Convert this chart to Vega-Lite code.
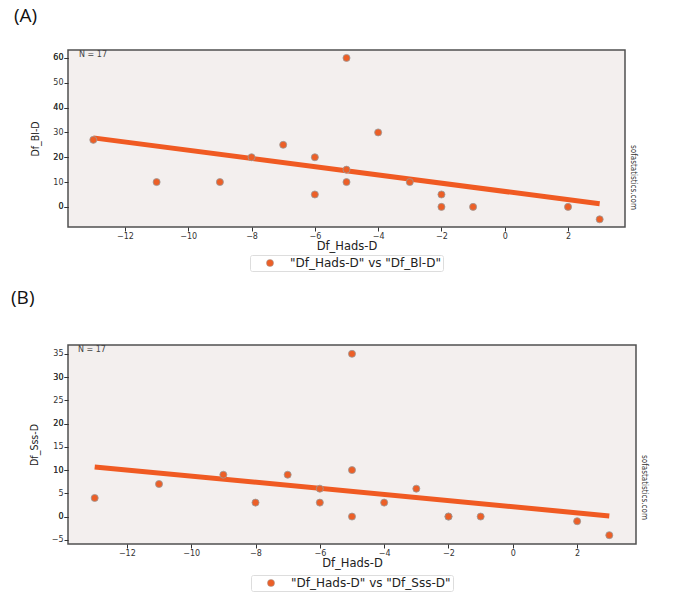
{
  "$schema": "https://vega.github.io/schema/vega-lite/v6.json",
  "padding": {"left": 10, "top": 6, "right": 5, "bottom": 5},
  "background": "white",
  "spacing": 15,
  "config": {
    "view": {"fill": "#f3efee", "stroke": "#505050", "strokeWidth": 1.5},
    "axis": {"labelFont": "DejaVu Sans", "labelFontSize": 8, "labelColor": "#333333", "tickColor": "#333333", "tickSize": 4, "labelPadding": 1, "domain": false, "grid": false, "titleFontWeight": "normal", "titleColor": "#222222"},
    "legend": {"layout": {"bottom": {"anchor": "middle"}}},
    "title": {"font": "Open Sans", "fontSize": 19, "fontWeight": "normal", "color": "#111111", "anchor": "start", "frame": "group"}
  },
  "datasets": {
    "a": [
      {"hads": -13, "bl": 27, "series": "\"Df_Hads-D\" vs \"Df_Bl-D\""},
      {"hads": -11, "bl": 10, "series": "\"Df_Hads-D\" vs \"Df_Bl-D\""},
      {"hads": -9, "bl": 10, "series": "\"Df_Hads-D\" vs \"Df_Bl-D\""},
      {"hads": -8, "bl": 20, "series": "\"Df_Hads-D\" vs \"Df_Bl-D\""},
      {"hads": -7, "bl": 25, "series": "\"Df_Hads-D\" vs \"Df_Bl-D\""},
      {"hads": -6, "bl": 20, "series": "\"Df_Hads-D\" vs \"Df_Bl-D\""},
      {"hads": -6, "bl": 5, "series": "\"Df_Hads-D\" vs \"Df_Bl-D\""},
      {"hads": -5, "bl": 60, "series": "\"Df_Hads-D\" vs \"Df_Bl-D\""},
      {"hads": -5, "bl": 15, "series": "\"Df_Hads-D\" vs \"Df_Bl-D\""},
      {"hads": -5, "bl": 10, "series": "\"Df_Hads-D\" vs \"Df_Bl-D\""},
      {"hads": -4, "bl": 30, "series": "\"Df_Hads-D\" vs \"Df_Bl-D\""},
      {"hads": -3, "bl": 10, "series": "\"Df_Hads-D\" vs \"Df_Bl-D\""},
      {"hads": -2, "bl": 5, "series": "\"Df_Hads-D\" vs \"Df_Bl-D\""},
      {"hads": -2, "bl": 0, "series": "\"Df_Hads-D\" vs \"Df_Bl-D\""},
      {"hads": -1, "bl": 0, "series": "\"Df_Hads-D\" vs \"Df_Bl-D\""},
      {"hads": 2, "bl": 0, "series": "\"Df_Hads-D\" vs \"Df_Bl-D\""},
      {"hads": 3, "bl": -5, "series": "\"Df_Hads-D\" vs \"Df_Bl-D\""}
    ],
    "b": [
      {"hads": -13, "sss": 4, "series": "\"Df_Hads-D\" vs \"Df_Sss-D\""},
      {"hads": -11, "sss": 7, "series": "\"Df_Hads-D\" vs \"Df_Sss-D\""},
      {"hads": -9, "sss": 9, "series": "\"Df_Hads-D\" vs \"Df_Sss-D\""},
      {"hads": -8, "sss": 3, "series": "\"Df_Hads-D\" vs \"Df_Sss-D\""},
      {"hads": -7, "sss": 9, "series": "\"Df_Hads-D\" vs \"Df_Sss-D\""},
      {"hads": -6, "sss": 6, "series": "\"Df_Hads-D\" vs \"Df_Sss-D\""},
      {"hads": -6, "sss": 3, "series": "\"Df_Hads-D\" vs \"Df_Sss-D\""},
      {"hads": -5, "sss": 35, "series": "\"Df_Hads-D\" vs \"Df_Sss-D\""},
      {"hads": -5, "sss": 10, "series": "\"Df_Hads-D\" vs \"Df_Sss-D\""},
      {"hads": -5, "sss": 0, "series": "\"Df_Hads-D\" vs \"Df_Sss-D\""},
      {"hads": -4, "sss": 3, "series": "\"Df_Hads-D\" vs \"Df_Sss-D\""},
      {"hads": -3, "sss": 6, "series": "\"Df_Hads-D\" vs \"Df_Sss-D\""},
      {"hads": -2, "sss": 0, "series": "\"Df_Hads-D\" vs \"Df_Sss-D\""},
      {"hads": -2, "sss": 0, "series": "\"Df_Hads-D\" vs \"Df_Sss-D\""},
      {"hads": -1, "sss": 0, "series": "\"Df_Hads-D\" vs \"Df_Sss-D\""},
      {"hads": 2, "sss": -1, "series": "\"Df_Hads-D\" vs \"Df_Sss-D\""},
      {"hads": 3, "sss": -4, "series": "\"Df_Hads-D\" vs \"Df_Sss-D\""}
    ],
    "note": [{"label": "N = 17"}]
  },
  "resolve": {"scale": {"color": "independent"}},
  "vconcat": [
    {
      "title": {"text": "(A)", "dx": -54, "offset": 24},
      "width": 557,
      "height": 177,
      "data": {"name": "a"},
      "resolve": {"axis": {"y": "independent"}},
      "layer": [
        {
          "transform": [{"regression": "bl", "on": "hads"}],
          "mark": {"type": "line", "color": "#f05a22", "strokeWidth": 5},
          "encoding": {
            "x": {"field": "hads", "type": "quantitative", "scale": {"domain": [-13.8, 3.8], "nice": false, "zero": false},
              "axis": {"values": [-12, -10, -8, -6, -4, -2, 0, 2], "title": "Df_Hads-D", "titleFont": "DejaVu Sans", "titleFontSize": 11.5, "titlePadding": 0}},
            "y": {"field": "bl", "type": "quantitative", "scale": {"domain": [-8.1, 63.2], "nice": false, "zero": false},
              "axis": {"orient": "right", "labels": false, "ticks": false, "domain": false, "title": "sofastatistics.com", "titleFont": "DejaVu Sans Condensed, Liberation Sans", "titleFontSize": 8, "titleColor": "#333333", "titlePadding": 3, "titleY": 127}}
          }
        },
        {
          "mark": {"type": "point", "filled": true, "size": 50, "stroke": "#9a9a9a", "strokeWidth": 0.8, "opacity": 1},
          "encoding": {
            "x": {"field": "hads", "type": "quantitative"},
            "y": {"field": "bl", "type": "quantitative",
              "axis": {"orient": "left", "values": [0, 10, 20, 30, 40, 50, 60], "title": "Df_Bl-D", "titleFont": "DejaVu Sans Condensed, Liberation Sans", "titleFontSize": 10.5, "titlePadding": 12}},
            "color": {"field": "series", "type": "nominal", "scale": {"range": ["#ec5f27"]},
              "legend": {"orient": "bottom", "title": null, "offset": 3, "symbolType": "circle", "symbolSize": 50, "symbolStrokeColor": "#9a9a9a", "symbolStrokeWidth": 0.5, "labelFont": "DejaVu Sans", "labelFontSize": 12, "labelColor": "#222222", "strokeColor": "#dddddd", "padding": 2, "cornerRadius": 2, "symbolOffset": 12, "labelOffset": 14}}
          }
        },
        {
          "data": {"name": "note"},
          "mark": {"type": "text", "font": "DejaVu Sans", "fontSize": 8, "color": "#444444", "align": "left", "baseline": "middle"},
          "encoding": {"text": {"field": "label"}, "x": {"datum": -13.45}, "y": {"datum": 61.2}}
        }
      ]
    },
    {
      "title": {"text": "(B)", "dx": -57, "offset": 37},
      "width": 568,
      "height": 199,
      "data": {"name": "b"},
      "resolve": {"axis": {"y": "independent"}},
      "layer": [
        {
          "transform": [{"regression": "sss", "on": "hads"}],
          "mark": {"type": "line", "color": "#f05a22", "strokeWidth": 5},
          "encoding": {
            "x": {"field": "hads", "type": "quantitative", "scale": {"domain": [-13.83, 3.83], "nice": false, "zero": false},
              "axis": {"values": [-12, -10, -8, -6, -4, -2, 0, 2], "title": "Df_Hads-D", "titleFont": "DejaVu Sans", "titleFontSize": 11.5, "titlePadding": 0}},
            "y": {"field": "sss", "type": "quantitative", "scale": {"domain": [-5.9, 36.9], "nice": false, "zero": false},
              "axis": {"orient": "right", "labels": false, "ticks": false, "domain": false, "title": "sofastatistics.com", "titleFont": "DejaVu Sans Condensed, Liberation Sans", "titleFontSize": 8, "titleColor": "#333333", "titlePadding": 3, "titleY": 142}}
          }
        },
        {
          "mark": {"type": "point", "filled": true, "size": 50, "stroke": "#9a9a9a", "strokeWidth": 0.8, "opacity": 1},
          "encoding": {
            "x": {"field": "hads", "type": "quantitative"},
            "y": {"field": "sss", "type": "quantitative",
              "axis": {"orient": "left", "values": [-5, 0, 5, 10, 15, 20, 25, 30, 35], "title": "Df_Sss-D", "titleFont": "DejaVu Sans Condensed, Liberation Sans", "titleFontSize": 10.5, "titlePadding": 12}},
            "color": {"field": "series", "type": "nominal", "scale": {"range": ["#ec5f27"]},
              "legend": {"orient": "bottom", "title": null, "offset": 6, "symbolType": "circle", "symbolSize": 50, "symbolStrokeColor": "#9a9a9a", "symbolStrokeWidth": 0.5, "labelFont": "DejaVu Sans", "labelFontSize": 12, "labelColor": "#222222", "strokeColor": "#dddddd", "padding": 2, "cornerRadius": 2, "symbolOffset": 12, "labelOffset": 14}}
          }
        },
        {
          "data": {"name": "note"},
          "mark": {"type": "text", "font": "DejaVu Sans", "fontSize": 8, "color": "#444444", "align": "left", "baseline": "middle"},
          "encoding": {"text": {"field": "label"}, "x": {"datum": -13.52}, "y": {"datum": 35.8}}
        }
      ]
    }
  ]
}
